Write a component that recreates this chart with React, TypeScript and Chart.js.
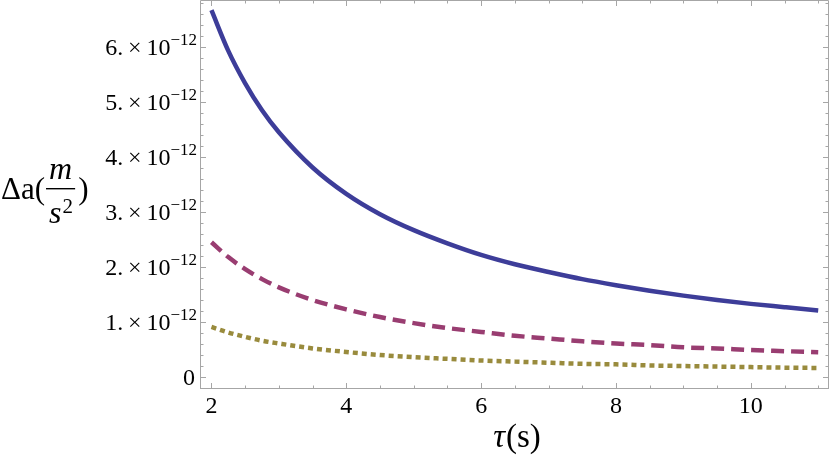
import React, { useEffect, useRef } from "react";
import { Chart, registerables } from "chart.js";

Chart.register(...registerables);

// τ (s) sample points
const tau = [2, 2.25, 2.5, 2.75, 3, 3.5, 4, 4.5, 5, 5.5, 6, 6.5, 7, 7.5, 8, 8.5, 9, 9.5, 10, 10.5, 11];
// Δa values, in units of 10^-12 m/s^2
const solidSeries = [6.67, 5.93, 5.34, 4.85, 4.45, 3.81, 3.33, 2.96, 2.67, 2.43, 2.22, 2.05, 1.91, 1.78, 1.67, 1.57, 1.48, 1.4, 1.33, 1.27, 1.21];
const dashedSeries = [2.45, 2.18, 1.96, 1.78, 1.63, 1.4, 1.23, 1.09, 0.98, 0.89, 0.82, 0.75, 0.7, 0.65, 0.61, 0.58, 0.54, 0.52, 0.49, 0.47, 0.45];
const dottedSeries = [0.91, 0.81, 0.73, 0.66, 0.61, 0.52, 0.455, 0.4, 0.36, 0.33, 0.3, 0.28, 0.26, 0.24, 0.23, 0.21, 0.2, 0.19, 0.18, 0.17, 0.165];

const xMajorTicks = [2, 4, 6, 8, 10];
const yMajorTicks = [0, 1, 2, 3, 4, 5, 6];
const yExponent = "12";
const xTitleMain = "τ";
const xTitleRest = "(s)";

const SERIF = '"Liberation Serif", Tinos, serif';
const FRAME = "#a6a6a6";

function range(a: number, b: number, step: number): number[] {
  const out: number[] = [];
  for (let i = 0; a + i * step <= b + 1e-9; i++) out.push(+(a + i * step).toFixed(4));
  return out;
}

const framePlugin = {
  id: "mmaFrame",
  beforeDatasetsDraw(chart: any) {
    const { ctx, chartArea: a, scales } = chart;
    const x = scales.x;
    const y = scales.y;
    ctx.save();
    ctx.strokeStyle = FRAME;
    ctx.lineWidth = 1;
    ctx.beginPath();
    ctx.rect(a.left + 0.5, a.top + 0.5, a.right - a.left - 1, a.bottom - a.top - 1);
    ctx.stroke();

    const xMinor = range(Math.ceil(x.min * 2) / 2, x.max, 0.5);
    ctx.beginPath();
    for (const v of xMinor) {
      const major = xMajorTicks.includes(v);
      const len = major ? 6 : 3.5;
      const px = Math.round(x.getPixelForValue(v)) + 0.5;
      ctx.moveTo(px, a.bottom);
      ctx.lineTo(px, a.bottom - len);
      ctx.moveTo(px, a.top);
      ctx.lineTo(px, a.top + len);
    }
    const yMinor = range(Math.ceil(y.min * 5) / 5, y.max, 0.2);
    for (const v of yMinor) {
      const major = yMajorTicks.some((m) => Math.abs(m - v) < 1e-6);
      const len = major ? 6 : 3.5;
      const py = Math.round(y.getPixelForValue(v)) + 0.5;
      ctx.moveTo(a.left, py);
      ctx.lineTo(a.left + len, py);
      ctx.moveTo(a.right, py);
      ctx.lineTo(a.right - len, py);
    }
    ctx.stroke();
    ctx.restore();
  },
  afterDraw(chart: any) {
    const { ctx, chartArea: a, scales } = chart;
    const y = scales.y;
    ctx.save();
    // y tick labels  "N. × 10^-12"
    ctx.fillStyle = "#000";
    ctx.textBaseline = "alphabetic";
    const mainFont = `24px ${SERIF}`;
    const supFont = `17px ${SERIF}`;
    for (const v of yMajorTicks) {
      const py = y.getPixelForValue(v);
      const right = a.left - 3;
      const base = py + 8;
      if (v === 0) {
        ctx.font = mainFont;
        ctx.textAlign = "right";
        ctx.fillText("0", right - 2, base);
        continue;
      }
      ctx.textAlign = "left";
      ctx.font = supFont;
      const sup = "\u2212" + yExponent;
      const supW = ctx.measureText(sup).width;
      ctx.font = mainFont;
      const main = `${v}.\u2009\u00d7\u200910`;
      const mainW = ctx.measureText(main).width;
      const start = right - supW - mainW;
      ctx.fillText(main, start, base);
      ctx.font = supFont;
      ctx.fillText(sup, start + mainW, base - 10);
    }

    // y-axis title  Δa( m / s² )
    ctx.textAlign = "left";
    ctx.font = `31px ${SERIF}`;
    ctx.fillText("\u0394a(", 1, 199);
    const wPre = ctx.measureText("\u0394a(").width;
    const fx = wPre + 2;
    ctx.font = `italic 32px ${SERIF}`;
    const mW = ctx.measureText("m").width;
    const sW = ctx.measureText("s").width;
    ctx.font = `21px ${SERIF}`;
    const twoW = ctx.measureText("2").width;
    const barW = Math.max(mW, sW + twoW) + 6;
    ctx.font = `italic 32px ${SERIF}`;
    ctx.fillText("m", fx + (barW - mW) / 2, 179);
    ctx.fillText("s", fx + (barW - sW - twoW) / 2, 223);
    ctx.font = `21px ${SERIF}`;
    ctx.fillText("2", fx + (barW - sW - twoW) / 2 + sW + 1, 213);
    ctx.fillRect(fx, 188, barW, 1.4);
    ctx.font = `31px ${SERIF}`;
    ctx.fillText(")", fx + barW + 3, 199);

    // x-axis title τ(s)
    ctx.font = `italic 33px ${SERIF}`;
    const tW = ctx.measureText(xTitleMain).width;
    ctx.font = `33px ${SERIF}`;
    const rW = ctx.measureText(xTitleRest).width;
    const cx = (a.left + a.right) / 2 + 2;
    const sx = cx - (tW + rW) / 2;
    ctx.font = `italic 33px ${SERIF}`;
    ctx.fillText(xTitleMain, sx, 447);
    ctx.font = `33px ${SERIF}`;
    ctx.fillText(xTitleRest, sx + tW + 1, 447);
    ctx.restore();
  },
};

export default function App() {
  const ref = useRef<HTMLCanvasElement | null>(null);
  useEffect(() => {
    document.body.style.margin = "0";
    const canvas = ref.current!;
    const chart = new Chart(canvas, {
      type: "line",
      data: {
        datasets: [
          {
            data: tau.map((t, i) => ({ x: t, y: solidSeries[i] })),
            borderColor: "#3d3d99",
            borderWidth: 4.5,
            pointRadius: 0,
            cubicInterpolationMode: "monotone",
            fill: false,
          },
          {
            data: tau.map((t, i) => ({ x: t, y: dashedSeries[i] })),
            borderColor: "#993d71",
            borderWidth: 4.5,
            borderDash: [13, 7],
            borderCapStyle: "butt",
            pointRadius: 0,
            cubicInterpolationMode: "monotone",
            fill: false,
          },
          {
            data: tau.map((t, i) => ({ x: t, y: dottedSeries[i] })),
            borderColor: "#998b3d",
            borderWidth: 4.5,
            borderDash: [5, 4],
            borderCapStyle: "butt",
            pointRadius: 0,
            cubicInterpolationMode: "monotone",
            fill: false,
          },
        ],
      },
      options: {
        responsive: false,
        animation: false,
        devicePixelRatio: 1,
        layout: { padding: { top: 0, right: 1, left: 0, bottom: 0 } },
        plugins: { legend: { display: false }, tooltip: { enabled: false } },
        scales: {
          x: {
            type: "linear",
            min: 1.83,
            max: 11.16,
            grid: { display: false, drawTicks: false },
            border: { display: false },
            afterBuildTicks: (s: any) => {
              s.ticks = xMajorTicks.map((v) => ({ value: v }));
            },
            afterFit: (s: any) => {
              s.height = 68;
            },
            ticks: {
              padding: 3,
              color: "#000",
              maxRotation: 0,
              font: { family: SERIF, size: 24 },
              callback: (v: any) => String(v),
            },
          },
          y: {
            type: "linear",
            min: -0.218,
            max: 6.855,
            grid: { display: false, drawTicks: false },
            border: { display: false },
            ticks: { display: false },
            afterFit: (s: any) => {
              s.width = 200;
            },
          },
        },
      },
      plugins: [framePlugin],
    } as any);
    return () => chart.destroy();
  }, []);
  return (
    <div style={{ width: 830, height: 457 }}>
      <canvas ref={ref} width={830} height={457} style={{ width: 830, height: 457, display: "block" }} />
    </div>
  );
}
